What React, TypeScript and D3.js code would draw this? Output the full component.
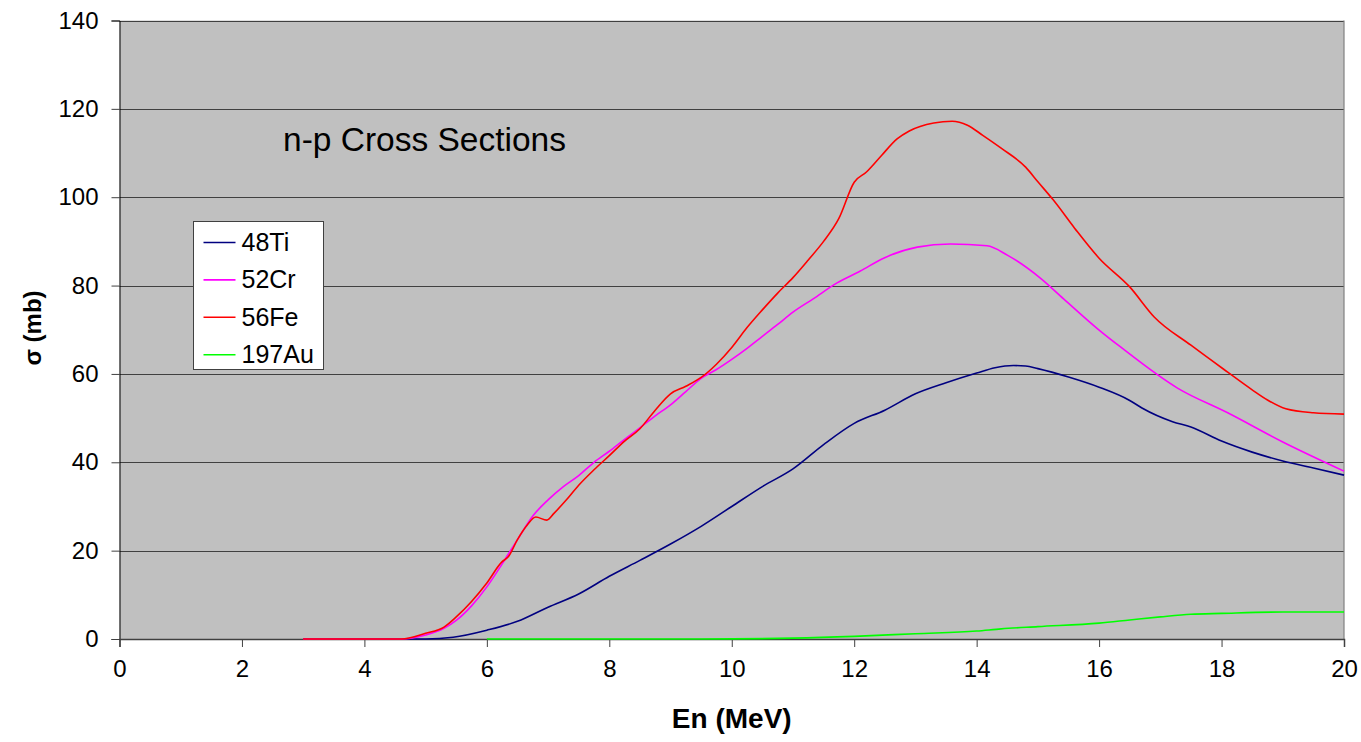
import React, { useEffect, useRef } from "react";
import * as d3 from "d3";

// energies (MeV) and cross sections (mb)
const feEnergy = [3, 4, 4.6, 5.0, 5.3, 5.5, 5.75, 6.0, 6.25, 6.35, 6.5, 6.66, 6.8, 6.98, 7.1, 7.3, 7.5, 7.75, 8.0, 8.25, 8.5, 8.75, 9.0, 9.25, 9.5, 9.75, 10.0, 10.25, 10.5, 10.75, 11.0, 11.25, 11.5, 11.75, 12.0, 12.2, 12.45, 12.7, 12.9, 13.3, 13.6, 13.85, 14.1, 14.4, 14.8, 15.0, 15.25, 15.6, 16.0, 16.5, 16.9, 17.5, 18.1, 18.5, 18.75, 19.05, 19.5, 20];
const feSigma = [0, 0, 0, 1.3, 2.7, 5.0, 8.5, 12.7, 17.5, 18.6, 22.5, 25.8, 27.6, 26.9, 28.5, 31.5, 34.8, 38.3, 41.5, 44.8, 47.6, 51.8, 55.5, 57.2, 59.2, 62.2, 66, 70.5, 74.5, 78.3, 81.8, 85.8, 90, 95.2, 103.4, 105.7, 109.5, 113.2, 115, 116.8, 117.2, 116.3, 114, 111.1, 106.8, 103.5, 99.4, 93, 86.2, 79.7, 72.9, 66.5, 60.4, 56.4, 54.1, 52.1, 51.2, 50.9];

const crEnergy = [3, 4, 4.6, 5.0, 5.3, 5.5, 5.75, 6.0, 6.25, 6.5, 6.76, 7.0, 7.25, 7.5, 7.75, 8.0, 8.25, 8.5, 8.75, 9.0, 9.25, 9.5, 9.75, 10.0, 10.25, 10.5, 10.75, 11.0, 11.33, 11.72, 12.1, 12.48, 13.03, 13.57, 14.17, 14.5, 15.04, 15.42, 16.02, 16.35, 17.28, 18.1, 19, 20];
const crSigma = [0, 0, 0, 0.9, 2.4, 4.2, 7.5, 11.8, 17, 22.5, 28, 31.5, 34.5, 37, 40, 42.5, 45.2, 47.8, 50.5, 53, 56, 59, 61, 63.3, 65.8, 68.5, 71.2, 74, 77, 80.6, 83.3, 86.2, 88.7, 89.4, 89.0, 86.9, 81.7, 77, 69.7, 66.1, 56.8, 51.2, 44.6, 38];

const tiEnergy = [3, 4, 5, 5.45, 6.0, 6.5, 7.0, 7.5, 8.0, 8.5, 9.0, 9.5, 10.0, 10.5, 11.0, 11.5, 12.0, 12.5, 13.0, 13.5, 14.0, 14.3, 14.6, 14.8, 15.0, 15.5, 16.0, 16.5, 16.7, 17.2, 17.5, 18.0, 18.5, 19.0, 19.5, 20];
const tiSigma = [0, 0, 0, 0.4, 2.0, 4.0, 7.2, 10.2, 14.2, 17.8, 21.5, 25.5, 30, 34.5, 38.5, 44, 48.8, 51.8, 55.5, 58, 60.2, 61.4, 61.9, 61.8, 61.2, 59.3, 57, 54, 52.3, 49.2, 48, 44.8, 42.3, 40.3, 38.7, 37.1];

const auEnergy = [6, 9.5, 11, 12, 13, 14, 14.4, 15, 16, 16.5, 17, 17.5, 18, 19, 20];
const auSigma = [0, 0, 0.2, 0.6, 1.2, 1.8, 2.3, 2.8, 3.6, 4.3, 5.0, 5.6, 5.8, 6.1, 6.1];

const seriesNames = ["48Ti", "52Cr", "56Fe", "197Au"];
const seriesColors = ["#000080", "#ff00ff", "#ff0000", "#00ff00"];

const xTicks = [0, 2, 4, 6, 8, 10, 12, 14, 16, 18, 20];
const yTicks = [0, 20, 40, 60, 80, 100, 120, 140];

const FONT = "Arial, 'Liberation Sans', sans-serif";

export default function App() {
  const ref = useRef<SVGSVGElement>(null);

  useEffect(() => {
    document.body.style.margin = "0";
    const svg = d3.select(ref.current);
    svg.selectAll("*").remove();

    const left = 119.5;
    const right = 1344;
    const top = 20.5;
    const bottom = 639;

    const x = d3.scaleLinear().domain([0, 20]).range([left, right]);
    const y = d3.scaleLinear().domain([0, 140]).range([bottom, top]);

    // plot area
    svg
      .append("rect")
      .attr("x", left)
      .attr("y", top)
      .attr("width", right - left)
      .attr("height", bottom - top)
      .attr("fill", "#c0c0c0");

    // gridlines
    svg
      .append("g")
      .selectAll("line")
      .data(yTicks.filter((d) => d > 0))
      .enter()
      .append("line")
      .attr("x1", left)
      .attr("x2", right)
      .attr("y1", (d) => Math.round(y(d)) + 0.5)
      .attr("y2", (d) => Math.round(y(d)) + 0.5)
      .attr("stroke", "#404040")
      .attr("stroke-width", 1.2);

    // right border
    svg
      .append("line")
      .attr("x1", right)
      .attr("x2", right)
      .attr("y1", top)
      .attr("y2", bottom)
      .attr("stroke", "#808080")
      .attr("stroke-width", 1.2);

    // y axis
    const yAxis = svg
      .append("g")
      .attr("transform", `translate(${left},0)`)
      .call(d3.axisLeft(y).tickValues(yTicks).tickSize(8).tickPadding(13));
    yAxis.select(".domain").attr("stroke", "#000");
    yAxis.selectAll(".tick line").attr("stroke", "#404040");
    yAxis
      .selectAll(".tick text")
      .attr("font-family", FONT)
      .attr("font-size", 24)
      .attr("fill", "#000");

    // x axis
    const xAxis = svg
      .append("g")
      .attr("transform", `translate(0,${bottom})`)
      .call(d3.axisBottom(x).tickValues(xTicks).tickSize(8).tickPadding(13));
    xAxis.select(".domain").attr("stroke", "#404040").attr("stroke-width", 1.5);
    xAxis.selectAll(".tick line").attr("stroke", "#404040");
    xAxis
      .selectAll(".tick text")
      .attr("font-family", FONT)
      .attr("font-size", 24)
      .attr("fill", "#000");

    // curves
    const series = [
      { e: tiEnergy, s: tiSigma },
      { e: crEnergy, s: crSigma },
      { e: feEnergy, s: feSigma },
      { e: auEnergy, s: auSigma },
    ];
    const line = d3
      .line<[number, number]>()
      .x((d) => x(d[0]))
      .y((d) => y(d[1]))
      .curve(d3.curveMonotoneX);

    series.forEach((sr, i) => {
      const pts = sr.e.map((v, j) => [v, sr.s[j]] as [number, number]);
      svg
        .append("path")
        .attr("d", line(pts))
        .attr("fill", "none")
        .attr("stroke", seriesColors[i])
        .attr("stroke-width", 1.6);
    });

    // chart text
    svg
      .append("text")
      .attr("x", 283)
      .attr("y", 151)
      .attr("font-family", FONT)
      .attr("font-size", 33.5)
      .text("n-p Cross Sections");

    svg
      .append("text")
      .attr("x", (left + right) / 2)
      .attr("y", 728)
      .attr("text-anchor", "middle")
      .attr("font-family", FONT)
      .attr("font-weight", "bold")
      .attr("font-size", 28)
      .text("En (MeV)");

    svg
      .append("text")
      .attr("transform", "translate(41,328) rotate(-90)")
      .attr("text-anchor", "middle")
      .attr("font-family", FONT)
      .attr("font-weight", "bold")
      .attr("font-size", 24)
      .text("σ (mb)");

    // legend
    const legend = svg.append("g").attr("transform", "translate(193.5,221.5)");
    legend
      .append("rect")
      .attr("width", 130)
      .attr("height", 148)
      .attr("fill", "#fff")
      .attr("stroke", "#404040")
      .attr("stroke-width", 1);
    seriesNames.forEach((name, i) => {
      const cy = 21 + i * 37.4;
      legend
        .append("line")
        .attr("x1", 10)
        .attr("x2", 42)
        .attr("y1", cy)
        .attr("y2", cy)
        .attr("stroke", seriesColors[i])
        .attr("stroke-width", 1.6);
      legend
        .append("text")
        .attr("x", 48)
        .attr("y", cy + 8.5)
        .attr("font-family", FONT)
        .attr("font-size", 25)
        .text(name);
    });
  }, []);

  return <svg ref={ref} width={1361} height={742} style={{ display: "block" }} />;
}
